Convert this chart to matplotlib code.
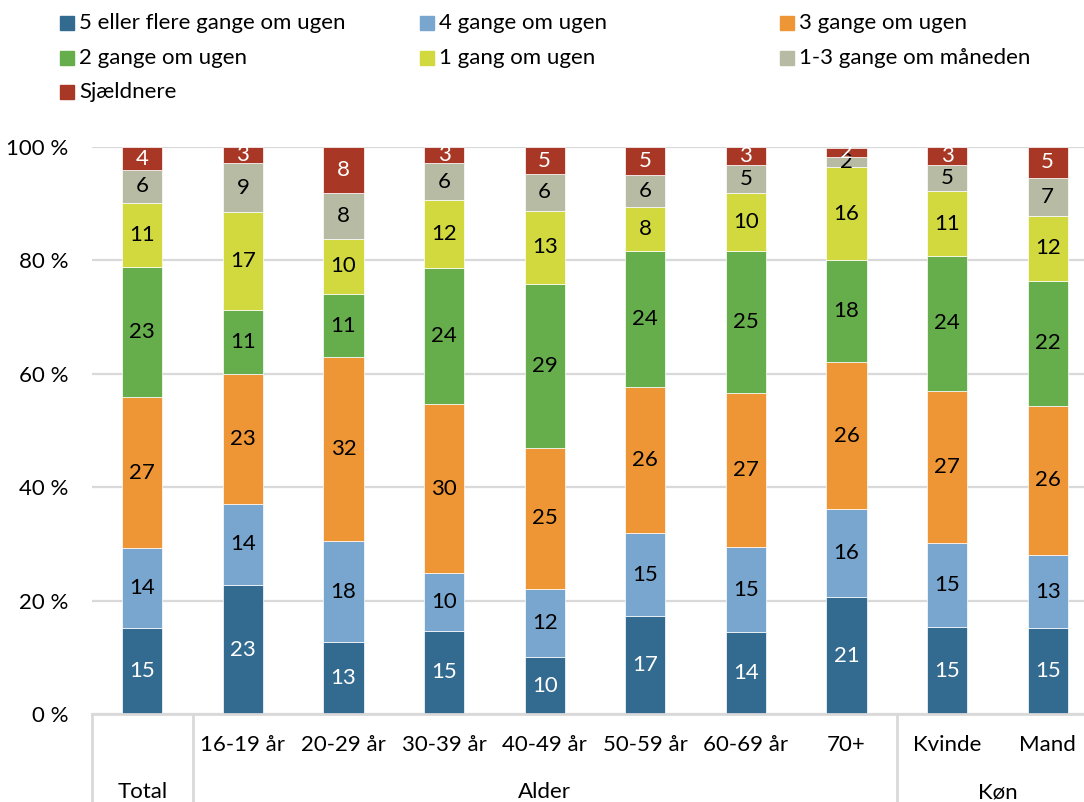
import matplotlib
matplotlib.use('Agg')

import matplotlib.pyplot as plt
from matplotlib.patches import Rectangle
import numpy as np

plt.rcParams['font.family'] = ['Lato', 'DejaVu Sans']

# categories (x axis) and groups
categories = ["", "16-19 år", "20-29 år", "30-39 år", "40-49 år",
              "50-59 år", "60-69 år", "70+", "Kvinde", "Mand"]
groups = ["Total", "Alder", "Køn"]
group_spans = [(0, 0), (1, 7), (8, 9)]

series_names = ["5 eller flere gange om ugen", "4 gange om ugen", "3 gange om ugen",
                "2 gange om ugen", "1 gang om ugen", "1-3 gange om måneden", "Sjældnere"]
colors = ["#326A90", "#78A6CF", "#EE9535", "#66AD4C", "#D1D93E", "#B7BBA3", "#A83825"]
text_colors = ["white", "black", "black", "black", "black", "black", "white"]

# values in percent (bottom to top)
fem_plus = [15.2, 22.7, 12.7, 14.7, 10.0, 17.3, 14.4, 20.6, 15.3, 15.2]
fire = [14.0, 14.4, 17.8, 10.2, 12.0, 14.6, 15.0, 15.5, 14.8, 12.8]
tre = [26.7, 22.8, 32.4, 29.7, 25.0, 25.8, 27.2, 25.9, 26.9, 26.4]
to = [22.9, 11.4, 11.2, 24.0, 28.8, 23.9, 25.0, 18.0, 23.8, 21.9]
en = [11.4, 17.2, 9.7, 12.1, 13.0, 7.8, 10.2, 16.4, 11.4, 11.6]
maaned = [5.7, 8.6, 8.1, 6.4, 6.4, 5.6, 5.1, 1.8, 4.7, 6.7]
sjaeldnere = [4.1, 2.9, 8.1, 2.9, 4.8, 5.0, 3.1, 1.7, 3.1, 5.4]

data = [fem_plus, fire, tre, to, en, maaned, sjaeldnere]

fig = plt.figure(figsize=(10.84, 8.02), dpi=100)
W, H = 1084, 802
ax = fig.add_axes([92 / W, (H - 714) / H, 1006 / W, 567 / H])

FS = 16

x = np.arange(len(categories))
bottom = np.zeros(len(categories))
for vals, col, tcol in zip(data, colors, text_colors):
    vals = np.array(vals)
    ax.bar(x, vals, width=0.4, bottom=bottom, color=col,
           edgecolor="white", linewidth=0.5, zorder=3)
    for xi, v, b in zip(x, vals, bottom):
        ax.text(xi, b + v / 2, str(int(np.floor(v + 0.5))), ha="center", va="center",
                fontsize=FS, color=tcol, zorder=4)
    bottom += vals

ax.set_xlim(-0.5, 9.5)
ax.set_ylim(0, 100)
ax.set_yticks(range(0, 101, 20))
ax.set_yticklabels([f"{v} %" for v in range(0, 101, 20)], fontsize=FS)
ax.tick_params(axis="y", length=0, pad=17)
ax.set_xticks([])
ax.grid(axis="y", color="#D9D9D9", linewidth=1.6, zorder=0)
for s in ["top", "right", "left"]:
    ax.spines[s].set_visible(False)
ax.spines["bottom"].set_color("#D9D9D9")
ax.spines["bottom"].set_linewidth(2)
ax.spines["bottom"].set_zorder(5)

trans = ax.get_xaxis_transform()
for xi, c in zip(x, categories):
    ax.text(xi, -0.0547, c, transform=trans, ha="center", va="center", fontsize=FS)
for g, (a, b) in zip(groups, group_spans):
    ax.text((a + b) / 2, -0.138, g, transform=trans, ha="center", va="center", fontsize=FS)

# group separators
for sx in [-0.5, 0.5, 7.5, 9.5]:
    ax.plot([sx, sx], [0, -0.2], transform=trans, color="#D9D9D9",
            linewidth=2, clip_on=False)

# legend, laid out by hand in three columns
col_x = [60, 420, 780]
row_y = [23, 58, 92]
for i, (name, col) in enumerate(zip(series_names, colors)):
    cx = col_x[i % 3]
    cy = row_y[i // 3]
    fig.patches.append(Rectangle((cx / W, (H - cy - 7) / H), 14 / W, 14 / H,
                                 transform=fig.transFigure, color=col))
    fig.text((cx + 19) / W, (H - cy) / H, name, ha="left", va="center", fontsize=FS)

plt.savefig("out.png", dpi=100)
plt.close()
